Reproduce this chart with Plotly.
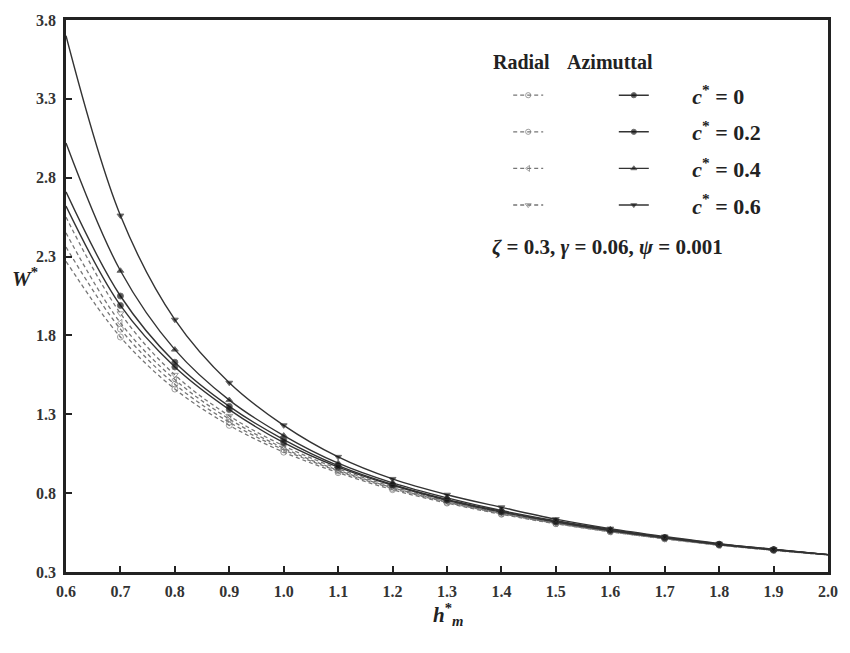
import plotly.graph_objects as go

h_m = [0.6, 0.7, 0.8, 0.9, 1.0, 1.1, 1.2, 1.3, 1.4, 1.5, 1.6, 1.7, 1.8, 1.9, 2.0]

c_labels = ["0", "0.2", "0.4", "0.6"]

# Azimuthal roughness (solid lines, filled markers)
azi_c0 = [2.62, 1.99, 1.60, 1.33, 1.12, 0.965, 0.85, 0.755, 0.68, 0.617, 0.563, 0.517, 0.475, 0.441, 0.41]
azi_c02 = [2.71, 2.05, 1.63, 1.35, 1.14, 0.975, 0.855, 0.76, 0.685, 0.62, 0.565, 0.518, 0.476, 0.442, 0.41]
azi_c04 = [3.02, 2.21, 1.71, 1.39, 1.165, 0.99, 0.865, 0.77, 0.69, 0.625, 0.57, 0.52, 0.478, 0.443, 0.41]
azi_c06 = [3.70, 2.56, 1.90, 1.50, 1.23, 1.03, 0.89, 0.79, 0.71, 0.635, 0.575, 0.525, 0.48, 0.445, 0.41]

# Radial roughness (dashed lines, open markers)
rad_c0 = [2.27, 1.79, 1.46, 1.23, 1.06, 0.93, 0.822, 0.737, 0.666, 0.606, 0.555, 0.51, 0.47, 0.437, 0.408]
rad_c02 = [2.36, 1.84, 1.49, 1.25, 1.075, 0.94, 0.83, 0.742, 0.67, 0.608, 0.556, 0.511, 0.471, 0.438, 0.409]
rad_c04 = [2.45, 1.88, 1.52, 1.27, 1.085, 0.945, 0.835, 0.745, 0.672, 0.61, 0.557, 0.512, 0.472, 0.439, 0.41]
rad_c06 = [2.55, 1.94, 1.55, 1.29, 1.10, 0.955, 0.84, 0.75, 0.675, 0.612, 0.559, 0.514, 0.473, 0.44, 0.41]

azi_series = [azi_c0, azi_c02, azi_c04, azi_c06]
rad_series = [rad_c0, rad_c02, rad_c04, rad_c06]

azi_symbols = ["circle", "circle", "triangle-up", "triangle-down"]
rad_symbols = ["circle-open", "circle-open", "triangle-left-open", "triangle-down-open"]

x_ticks = [0.6, 0.7, 0.8, 0.9, 1.0, 1.1, 1.2, 1.3, 1.4, 1.5, 1.6, 1.7, 1.8, 1.9, 2.0]
y_ticks = [0.3, 0.8, 1.3, 1.8, 2.3, 2.8, 3.3, 3.8]

FONT = "Liberation Serif, Times New Roman, serif"

# no markers drawn at the frame edges
msize = [0] + [6] * (len(h_m) - 2) + [0]

fig = go.Figure()

for i, ys in enumerate(rad_series):
    fig.add_trace(go.Scatter(
        x=h_m, y=ys, mode="lines+markers", line_shape="spline",
        line=dict(color="#767676", width=1.3, dash="4px,3px"),
        marker=dict(symbol=rad_symbols[i], size=msize, color="#767676",
                    line=dict(width=1, color="#767676")),
        name=" ", legend="legend", legendgroup=f"r{i}", showlegend=True,
    ))

for i, (ys, lab) in enumerate(zip(azi_series, c_labels)):
    fig.add_trace(go.Scatter(
        x=h_m, y=ys, mode="lines+markers", line_shape="spline",
        line=dict(color="#333333", width=1.4),
        marker=dict(symbol=azi_symbols[i], size=msize, color="#111111"),
        name="&nbsp;" * 7 + f"<b><i>c</i><sup>*</sup> = {lab}</b>",
        legend="legend2", legendgroup=f"a{i}", showlegend=True,
    ))

axis_common = dict(
    showline=True, linewidth=2.5, linecolor="#222", mirror=True,
    ticks="inside", ticklen=6, tickwidth=2, tickcolor="#222",
    showgrid=False, zeroline=False,
    tickfont=dict(family=FONT, size=16, color="#333"),
)

def px_x(p):
    return (p - 66) / 772.0

def px_y(p):
    return (572 - p) / 558.0

legend_font = dict(family=FONT, size=22, color="#222")

fig.update_layout(
    width=850, height=653,
    margin=dict(l=66, r=12, t=14, b=81),
    paper_bgcolor="white", plot_bgcolor="white",
    font=dict(family=FONT, color="#222"),
    xaxis=dict(range=[0.6, 2.0], tickvals=x_ticks,
               ticktext=[f"<b>{v:.1f}</b>" for v in x_ticks],
               ticklabelstandoff=3, **axis_common),
    yaxis=dict(range=[0.3, 3.8], tickvals=y_ticks,
               ticktext=[f"<b>{v:.1f}</b>" for v in y_ticks],
               ticklabelstandoff=4, **axis_common),
    legend=dict(x=px_x(514), y=px_y(69), xanchor="left", yanchor="top",
                bgcolor="rgba(0,0,0,0)", font=legend_font,
                tracegroupgap=5, traceorder="grouped", itemwidth=30),
    legend2=dict(x=px_x(621), y=px_y(69), xanchor="left", yanchor="top",
                 bgcolor="rgba(0,0,0,0)", font=legend_font,
                 tracegroupgap=5, traceorder="grouped", itemwidth=30),
    showlegend=True,
)

fig.add_annotation(text="<b>Radial</b>", x=px_x(497), y=px_y(56), xref="paper", yref="paper",
                   xanchor="left", yanchor="middle", showarrow=False,
                   font=dict(family=FONT, size=20, color="#222"))
fig.add_annotation(text="<b>Azimuttal</b>", x=px_x(572), y=px_y(56), xref="paper", yref="paper",
                   xanchor="left", yanchor="middle", showarrow=False,
                   font=dict(family=FONT, size=20, color="#222"))
fig.add_annotation(text="<b><i>ζ</i> = 0.3, <i>γ</i> = 0.06, <i>ψ</i> = 0.001</b>",
                   x=px_x(496), y=px_y(243), xref="paper", yref="paper",
                   xanchor="left", yanchor="middle", showarrow=False,
                   font=dict(family=FONT, size=21, color="#222"))
fig.add_annotation(text="<b><i>W</i><sup>*</sup></b>", x=px_x(24), y=px_y(274),
                   xref="paper", yref="paper", xanchor="center", yanchor="middle",
                   showarrow=False, font=dict(family=FONT, size=21, color="#222"))
fig.add_annotation(text="<b><i>h</i><sup>*</sup><sub><i>m</i></sub></b>", x=px_x(453), y=px_y(615),
                   xref="paper", yref="paper", xanchor="center", yanchor="middle",
                   showarrow=False, font=dict(family=FONT, size=21, color="#222"))

fig.write_html("out.html", config={"displayModeBar": False},
               post_script="document.body.style.margin='0px';")
